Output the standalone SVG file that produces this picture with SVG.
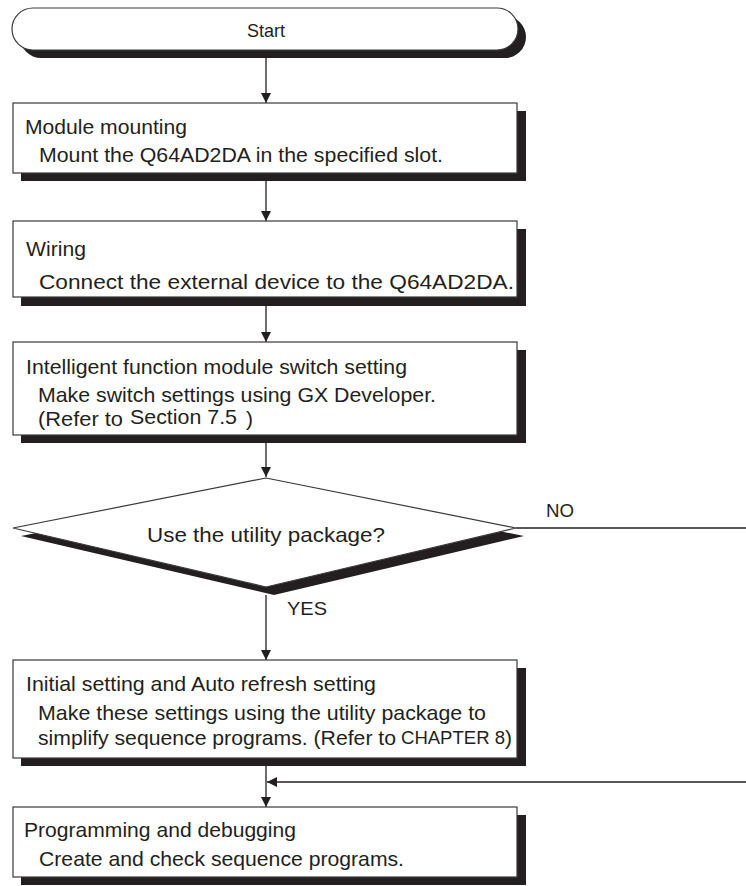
<svg xmlns="http://www.w3.org/2000/svg" width="746" height="886" viewBox="0 0 746 886">
<style>
.sh{fill:#231f20}
.bx{fill:#fff;stroke:#3a3a3a;stroke-width:1.2}
.ln{fill:none;stroke:#231f20;stroke-width:1.3}
text{font-family:"Liberation Sans",Arial,sans-serif;fill:#231f20;font-size:21px}
</style>
<defs>
<marker id="ah" viewBox="0 0 10 10" refX="10" refY="5" markerWidth="10" markerHeight="10" markerUnits="userSpaceOnUse" orient="auto">
<path d="M0,0 L10,5 L0,10 z" fill="#231f20"/>
</marker>
</defs>
<rect width="746" height="886" fill="#fff"/>
<g id="connectors">
<line class="ln" x1="266" y1="58" x2="266" y2="103" marker-end="url(#ah)"/>
<line class="ln" x1="266" y1="181" x2="266" y2="221" marker-end="url(#ah)"/>
<line class="ln" x1="266" y1="305" x2="266" y2="342" marker-end="url(#ah)"/>
<line class="ln" x1="266" y1="443" x2="266" y2="477" marker-end="url(#ah)"/>
<line class="ln" x1="266" y1="595" x2="266" y2="660" marker-end="url(#ah)"/>
<line class="ln" x1="516" y1="528" x2="746" y2="528"/>
<line class="ln" x1="746" y1="782" x2="267" y2="782" marker-end="url(#ah)"/>
<line class="ln" x1="266" y1="766" x2="266" y2="807" marker-end="url(#ah)"/>
<text x="546" y="517" textLength="28" lengthAdjust="spacingAndGlyphs" style="font-size:19px">NO</text>
<text x="287" y="615" textLength="40" lengthAdjust="spacingAndGlyphs" style="font-size:19px">YES</text>
</g>
<g id="start">
<rect class="sh" x="20" y="16" width="506" height="42" rx="21"/>
<rect class="bx" x="12" y="8" width="506" height="42" rx="21"/>
<text x="266" y="37" text-anchor="middle" textLength="38" lengthAdjust="spacingAndGlyphs" style="font-size:19px">Start</text>
</g>
<g id="mount">
<rect class="sh" x="21" y="111" width="505" height="70"/>
<rect class="bx" x="13" y="103" width="504" height="70"/>
<text x="25" y="134" textLength="162" lengthAdjust="spacingAndGlyphs">Module mounting</text>
<text x="39" y="162" textLength="404" lengthAdjust="spacingAndGlyphs">Mount the Q64AD2DA in the specified slot.</text>
</g>
<g id="wiring">
<rect class="sh" x="21" y="229" width="505" height="77"/>
<rect class="bx" x="13" y="221" width="504" height="76"/>
<text x="26" y="256" textLength="60" lengthAdjust="spacingAndGlyphs">Wiring</text>
<text x="39" y="289" textLength="475" lengthAdjust="spacingAndGlyphs">Connect the external device to the Q64AD2DA.</text>
</g>
<g id="switch">
<rect class="sh" x="21" y="350" width="505" height="93"/>
<rect class="bx" x="13" y="342" width="504" height="93"/>
<text x="26" y="374" textLength="381" lengthAdjust="spacingAndGlyphs">Intelligent function module switch setting</text>
<text x="38" y="402" textLength="398" lengthAdjust="spacingAndGlyphs">Make switch settings using GX Developer.</text>
<text x="38" y="426" textLength="85" lengthAdjust="spacingAndGlyphs">(Refer to</text>
<text x="130" y="424" textLength="107" lengthAdjust="spacingAndGlyphs">Section 7.5</text>
<text x="246" y="426">)</text>
</g>
<g id="decision">
<polygon class="sh" points="274,486 524,536 274,595 21,536"/>
<polygon class="bx" points="266,478 516,528 266,587 13,528"/>
<text x="147" y="542" textLength="238" lengthAdjust="spacingAndGlyphs">Use the utility package?</text>
</g>
<g id="initial">
<rect class="sh" x="21" y="668" width="505" height="98"/>
<rect class="bx" x="13" y="660" width="504" height="98"/>
<text x="26" y="691" textLength="350" lengthAdjust="spacingAndGlyphs">Initial setting and Auto refresh setting</text>
<text x="38" y="720" textLength="448" lengthAdjust="spacingAndGlyphs">Make these settings using the utility package to</text>
<text x="38" y="745" textLength="358" lengthAdjust="spacingAndGlyphs">simplify sequence programs. (Refer to</text>
<text x="401" y="744" textLength="104" lengthAdjust="spacingAndGlyphs" style="font-size:18px">CHAPTER 8</text>
<text x="505" y="745">)</text>
</g>
<g id="program">
<rect class="sh" x="21" y="815" width="505" height="70"/>
<rect class="bx" x="13" y="807" width="504" height="70"/>
<text x="24" y="837" textLength="272" lengthAdjust="spacingAndGlyphs">Programming and debugging</text>
<text x="39" y="866" textLength="365" lengthAdjust="spacingAndGlyphs">Create and check sequence programs.</text>
</g>
</svg>
